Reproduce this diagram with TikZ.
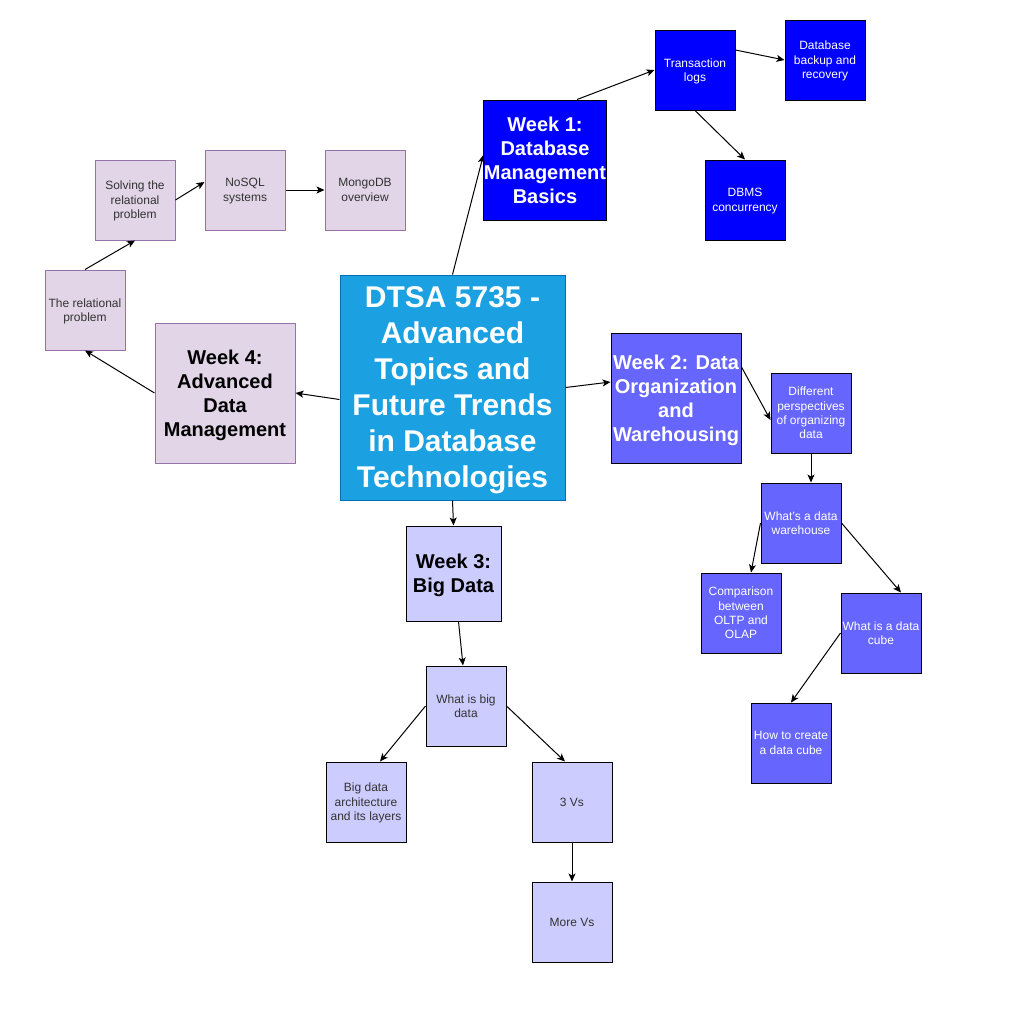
\documentclass[tikz,border=0pt]{standalone}
\usepackage{fontspec}
\setmainfont{Liberation Sans}
\usetikzlibrary{arrows.meta}
\definecolor{cmain}{HTML}{1BA1E2}
\definecolor{cmainline}{HTML}{006EAF}
\definecolor{cone}{HTML}{0000FF}
\definecolor{ctwo}{HTML}{6666FF}
\definecolor{cthree}{HTML}{CCCCFF}
\definecolor{cfour}{HTML}{E1D5E7}
\definecolor{cfourline}{HTML}{9673A6}
\definecolor{dgray}{HTML}{333333}
\tikzset{
  box/.style={rectangle, inner sep=0pt, line width=1pt, align=center, minimum width=80pt, minimum height=80pt, text depth=0pt},
  small/.style={font=\fontsize{12}{14.4}\selectfont},
  big/.style={font=\fontsize{20}{24}\selectfont\bfseries},
  gone/.style={box, fill=cone, draw=black, text=white},
  gtwo/.style={box, fill=ctwo, draw=black, text=white},
  gthree/.style={box, fill=cthree, draw=black, text=dgray},
  gfour/.style={box, fill=cfour, draw=cfourline, text=dgray},
  link/.style={draw=black, line width=1pt, -{Stealth[length=8pt,width=7pt,inset=2pt]}},
}
\begin{document}
\begin{tikzpicture}[x=1pt,y=-1pt]
\fill[white] (0,0) rectangle (1010,1010);
\useasboundingbox (0,0) rectangle (1010,1010);

% centre
\node[box, fill=cmain, draw=cmainline, text=white, minimum width=225pt, minimum height=225pt,
      font=\fontsize{30}{36}\selectfont\bfseries] (c) at (452.5,387.5)
  {DTSA 5735 -\\Advanced\\Topics and\\Future Trends\\in Database\\Technologies};

% week 1
\node[gone, big, minimum width=120pt, minimum height=120pt] (w1) at (545,160) {Week 1:\\Database\\Management\\Basics};
\node[gone, small] (tl) at (695,70) {Transaction\\logs};
\node[gone, small] (bk) at (825,60) {Database\\backup and\\recovery};
\node[gone, small] (dc) at (745,200) {DBMS\\concurrency};

% week 2
\node[gtwo, big, minimum width=130pt, minimum height=130pt] (w2) at (676,398) {Week 2: Data\\Organization\\and\\Warehousing};
\node[gtwo, small] (dp) at (811,413) {Different\\perspectives\\of organizing\\data};
\node[gtwo, small] (wh) at (801,523) {What's a data\\warehouse};
\node[gtwo, small] (cmp) at (741,613) {Comparison\\between\\OLTP and\\OLAP};
\node[gtwo, small] (cube) at (881,633) {What is a data\\cube};
\node[gtwo, small] (how) at (791,743) {How to create\\a data cube};

% week 3
\node[gthree, big, text=black, minimum width=95pt, minimum height=95pt] (w3) at (453.5,573.5) {Week 3:\\Big Data};
\node[gthree, small] (wbd) at (466,706) {What is big\\data};
\node[gthree, small] (bda) at (366,802) {Big data\\architecture\\and its layers};
\node[gthree, small] (v3) at (572,802) {3 Vs};
\node[gthree, small] (mv) at (572,922) {More Vs};

% week 4
\node[gfour, big, text=black, minimum width=140pt, minimum height=140pt] (w4) at (225,393) {Week 4:\\Advanced\\Data\\Management};
\node[gfour, small] (rel) at (85,310) {The relational\\problem};
\node[gfour, small] (sol) at (135,200) {Solving the\\relational\\problem};
\node[gfour, small] (nos) at (245,190) {NoSQL\\systems};
\node[gfour, small] (mon) at (365,190) {MongoDB\\overview};

% connectors
\draw[link] (c.north) -- ([yshift=5pt]w1.west);
\draw[link] ([xshift=32pt]w1.north) -- (tl.west);
\draw[link] ([yshift=20pt]tl.east) -- (bk.west);
\draw[link] (tl.south) -- (dc.north);

\draw[link] (c.east) -- ([yshift=16pt]w2.west);
\draw[link] ([yshift=31pt]w2.east) -- ([yshift=-7pt]dp.west);
\draw[link] (dp.south) -- (dp.south |- wh.north);
\draw[link] (wh.west) -- ([xshift=10pt]cmp.north);
\draw[link] (wh.east) -- ([xshift=20pt]cube.north);
\draw[link] (cube.west) -- (how.north);

\draw[link] (c.south) -- (w3.north);
\draw[link] ([xshift=5pt]w3.south) -- ([xshift=-3pt]wbd.north);
\draw[link] (wbd.west) -- ([xshift=14pt]bda.north);
\draw[link] (wbd.east) -- ([xshift=-7pt]v3.north);
\draw[link] (v3.south) -- (mv.north);

\draw[link] ([yshift=-12pt]c.west) -- (w4.east);
\draw[link] (w4.west) -- (rel.south);
\draw[link] (rel.north) -- (sol.south);
\draw[link] (sol.east) -- ([yshift=8pt]nos.west);
\draw[link] (nos.east) -- (mon.west);
\end{tikzpicture}
\end{document}
